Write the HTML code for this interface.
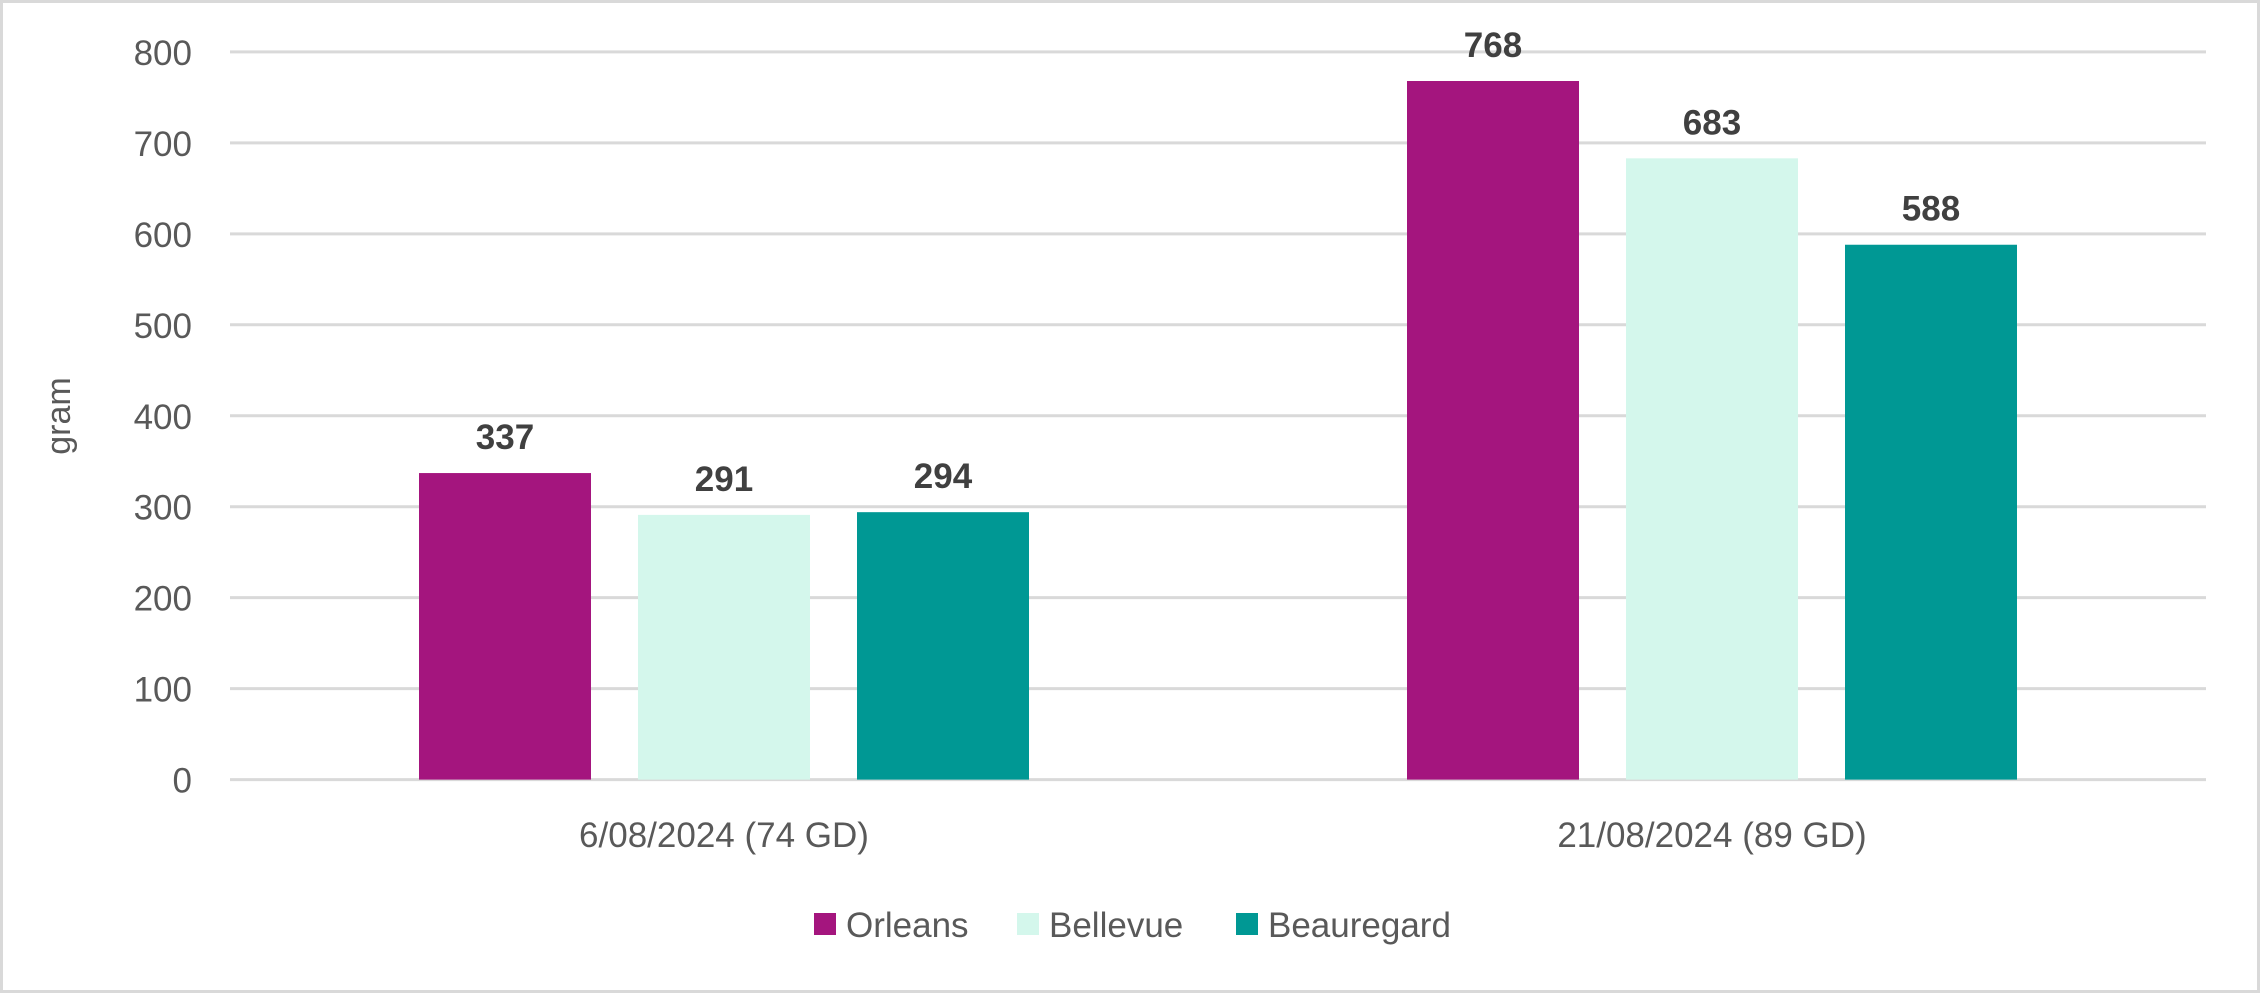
<!DOCTYPE html>
<html><head><meta charset="utf-8"><style>
body{margin:0;background:#fff;}
svg{display:block;font-family:"Liberation Sans",sans-serif;}
</style></head><body>
<svg id="chart" width="2260" height="993" viewBox="0 0 2260 993">
<rect x="1.5" y="1.5" width="2257" height="990" fill="#fff" stroke="#d9d9d9" stroke-width="3"/>
<g id="grid"></g><g id="bars"></g><g id="labels"></g>
<text transform="translate(70,416) rotate(-90)" text-anchor="middle" font-size="34" fill="#595959">gram</text>
<g id="legend"></g>
</svg>
<script>
const categories=["6/08/2024 (74 GD)","21/08/2024 (89 GD)"];
const seriesNames=["Orleans","Bellevue","Beauregard"];
const orleans=[337,768];
const bellevue=[291,683];
const beauregard=[294,588];
const yTicks=[0,100,200,300,400,500,600,700,800];
const colors=["#A4157E","#D4F7EC","#009894"];
const NS="http://www.w3.org/2000/svg";
const L=230,R=2206,Y0=779.6,Y800=51.9;
const y=v=>Y0-(v/800)*(Y0-Y800);
const catW=(R-L)/categories.length;
const cx=i=>L+catW*(i+0.5);
const barW=172,step=219;
function mk(tag,attrs,parent){const e=document.createElementNS(NS,tag);for(const k in attrs)e.setAttribute(k,attrs[k]);document.getElementById(parent).appendChild(e);return e;}
yTicks.forEach(t=>{
  const l=mk('line',{x1:L,x2:R,y1:y(t),y2:y(t),stroke:'#d9d9d9','stroke-width':3},'grid');
  
  
  const tx=mk('text',{x:192,y:y(t)+13,'text-anchor':'end','font-size':35,fill:'#595959'},'grid');
  tx.textContent=t;
  
  
});
const series=[orleans,bellevue,beauregard];
categories.forEach((c,i)=>{
  series.forEach((s,j)=>{
    const x=cx(i)+(j-1)*step-barW/2;
    const r=mk('rect',{x:x,y:y(s[i]),width:barW,height:Y0-y(s[i]),fill:colors[j]},'bars');
    
    
    const t=mk('text',{x:x+barW/2,y:y(s[i])-24,'text-anchor':'middle','font-size':35,'font-weight':'bold',fill:'#404040'},'labels');
    t.textContent=s[i];
    
    
  });
  const ct=mk('text',{x:cx(i),y:847,'text-anchor':'middle','font-size':35,fill:'#595959'},'labels');
  ct.textContent=c;
  
  
});
const legX=[814,1017,1236];
seriesNames.forEach((n,j)=>{
  const sq=mk('rect',{x:legX[j],y:913,width:22,height:22,fill:colors[j]},'legend');
  
  
  const t=mk('text',{x:legX[j]+32,y:937,'font-size':35,fill:'#595959'},'legend');
  t.textContent=n;
  
  
});
</script>
</body></html>
